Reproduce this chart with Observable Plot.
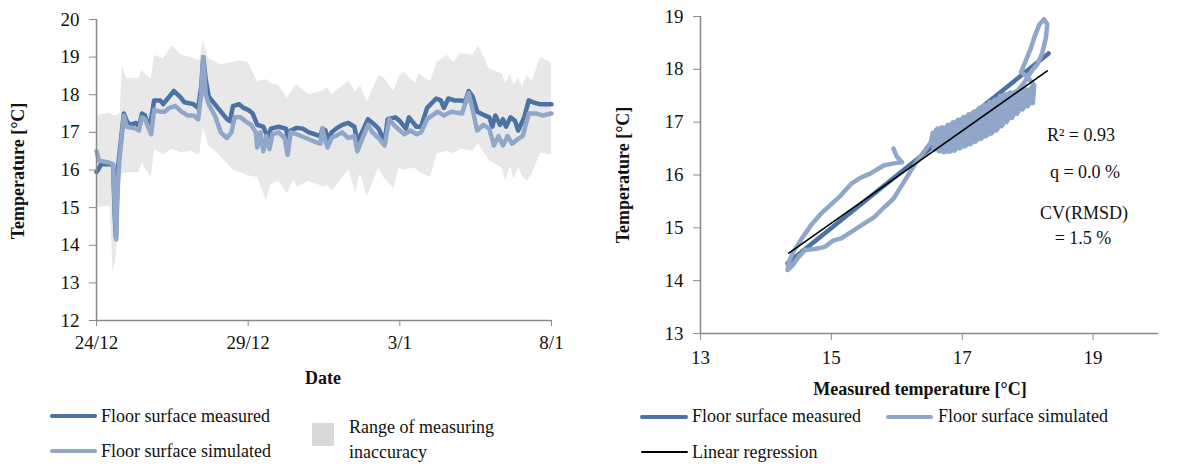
<!DOCTYPE html>
<html>
<head>
<meta charset="utf-8">
<script src="https://cdn.jsdelivr.net/npm/d3@7"></script>
<script src="https://cdn.jsdelivr.net/npm/@observablehq/plot@0.6"></script>
<style>
  html, body { margin: 0; padding: 0; background: #fff; }
  #root { position: relative; width: 1184px; height: 467px; overflow: hidden; font-family: "Liberation Serif", "Times New Roman", serif; color: #111; }
  .abs { position: absolute; white-space: nowrap; }
  .lbl { font-size: 18px; line-height: 1; }
  .title { font-size: 18px; font-weight: bold; line-height: 1; }
  .sw { position: absolute; height: 4px; border-radius: 2px; }
</style>
</head>
<body>
<div id="root"></div>
<script>
// ---------- Left chart data (days after 24/12) ----------
const dayTicks = [0, 5, 10, 15];
const dayTickLabels = ["24/12", "29/12", "3/1", "8/1"];
const tempTicksLeft = [12, 13, 14, 15, 16, 17, 18, 19, 20];

const bandDays = [0,0.45,0.55,0.65,0.78,0.85,1.0,1.4,1.5,1.8,1.92,2.2,2.5,2.8,3.1,3.4,3.52,3.7,4.1,4.5,4.7,5.0,5.3,5.6,5.75,6.0,6.29,6.51,6.62,7.0,7.5,7.6,7.77,8.32,8.54,8.7,8.92,9.31,9.47,9.8,9.97,10.13,10.52,10.63,11.01,11.23,11.56,11.78,12.0,12.39,12.6,12.94,13.38,13.49,13.65,13.76,13.92,14.04,14.2,14.37,14.64,15.0];
const bandLower = [15.0,15.05,13.25,13.7,15.3,15.9,15.93,15.93,16.2,15.8,16.55,16.4,16.55,16.45,16.5,16.4,17.1,16.65,16.35,16.0,15.95,15.85,15.8,15.2,15.6,15.7,15.37,15.75,15.55,15.7,15.55,15.6,15.45,16.0,15.4,15.9,15.3,16.05,15.8,15.5,16.05,16.0,16.05,15.95,15.8,16.43,16.5,16.43,16.55,16.5,16.7,16.25,16.05,15.7,16.1,15.75,16.05,15.85,15.7,15.9,16.45,16.4];
const bandUpper = [17.45,17.5,17.45,17.45,17.5,18.75,18.43,18.43,18.65,18.4,19.05,18.95,19.3,19.05,19.0,18.9,19.45,18.95,18.8,18.85,18.9,18.85,18.35,18.4,18.3,18.25,17.9,18.2,18.25,18.0,18.1,18.2,18.0,18.38,18.05,18.25,17.8,18.5,18.45,18.1,18.45,18.6,18.3,18.55,18.35,18.86,19.05,18.85,19.1,19.05,19.3,18.7,18.55,18.3,18.55,18.25,18.45,18.2,18.5,18.35,19.0,18.85];

const measDays = [0,0.05,0.15,0.5,0.55,0.6,0.64,0.7,0.9,1.0,1.1,1.3,1.4,1.5,1.6,1.75,1.9,2.1,2.2,2.4,2.55,2.75,2.9,3.2,3.35,3.45,3.52,3.6,3.7,3.9,4.1,4.3,4.4,4.5,4.7,4.85,5.0,5.15,5.3,5.5,5.65,5.75,6.0,6.25,6.3,6.4,6.6,6.8,7.0,7.2,7.38,7.45,7.55,7.62,7.75,7.9,8.1,8.3,8.5,8.6,8.75,8.95,9.1,9.3,9.5,9.6,9.85,10.0,10.2,10.3,10.4,10.55,10.7,10.9,11.2,11.35,11.45,11.6,11.8,12.05,12.15,12.27,12.4,12.55,12.8,12.95,13.05,13.15,13.3,13.4,13.5,13.65,13.8,13.9,14.1,14.25,14.4,14.6,14.8,15.0];
const measTemp = [15.95,16.0,16.15,16.15,16.1,14.8,14.2,16.0,17.5,17.3,17.2,17.25,17.15,17.5,17.45,17.1,17.85,17.85,17.75,17.95,18.1,17.95,17.8,17.75,17.65,18.2,19.0,18.4,17.95,17.75,17.55,17.35,17.3,17.7,17.75,17.65,17.6,17.5,17.2,17.15,16.85,17.1,17.15,17.1,16.85,17.05,17.12,17.1,17.0,16.95,16.9,17.1,17.05,16.8,17.0,17.1,17.2,17.25,17.15,16.75,17.0,17.35,17.25,17.1,16.75,17.35,17.4,17.3,17.1,17.4,17.3,17.15,17.15,17.65,17.9,17.85,17.65,17.9,17.85,17.85,17.8,18.1,17.95,17.55,17.45,17.4,17.15,17.45,17.2,17.35,17.15,17.4,17.3,17.05,17.4,17.85,17.8,17.75,17.75,17.75];

const simDays = [0,0.08,0.4,0.55,0.6,0.65,0.7,0.75,0.9,1.0,1.3,1.4,1.5,1.6,1.8,1.9,2.1,2.25,2.4,2.6,2.8,3.0,3.2,3.35,3.45,3.52,3.6,3.7,3.9,4.1,4.3,4.45,4.55,4.75,4.9,5.1,5.25,5.3,5.4,5.5,5.6,5.7,5.8,6.0,6.2,6.3,6.4,6.6,6.9,7.2,7.38,7.45,7.55,7.62,7.75,8.1,8.3,8.5,8.6,8.75,8.95,9.1,9.3,9.5,9.65,9.8,10.0,10.15,10.35,10.55,10.7,10.9,11.25,11.45,11.7,12.05,12.27,12.4,12.55,12.75,12.95,13.1,13.25,13.4,13.55,13.7,13.85,14.05,14.25,14.5,14.7,15.0];
const simTemp = [16.5,16.25,16.2,16.15,15.0,14.15,15.6,16.2,17.45,17.15,17.1,17.05,17.4,17.35,16.95,17.6,17.55,17.55,17.65,17.7,17.55,17.45,17.45,17.35,18.0,19.0,18.0,17.75,17.45,17.0,16.85,17.0,17.4,17.4,17.3,17.2,17.0,16.6,17.0,16.5,16.9,16.55,16.95,17.0,16.85,16.4,17.0,16.95,16.85,16.75,16.7,17.1,16.75,16.6,16.85,17.0,16.85,16.9,16.5,16.8,17.2,17.0,16.85,16.65,17.35,17.2,17.05,16.95,17.05,16.95,17.0,17.35,17.55,17.45,17.55,17.5,18.05,17.6,17.05,17.2,17.1,16.65,16.9,16.65,16.9,16.7,16.8,16.9,17.5,17.5,17.45,17.5];

// ---------- Right chart data ----------
const xTicksRight = [13, 15, 17, 19];
const yTicksRight = [13, 14, 15, 16, 17, 18, 19];
const traceMeasured = [15.95,16.0,16.08,15.95,15.8,15.6,15.45,15.3,15.15,15.0,14.85,14.7,14.55,14.42,14.35,14.33,14.4,14.5,14.6,14.75,14.9,15.03,15.15,15.34,15.5,15.65,15.8,15.95,16.1,16.2,16.31,16.45,16.52,
  16.55,16.58,16.62,16.66,16.70,16.74,16.78,16.82,16.86,16.90,16.94,16.98,17.02,17.06,17.10,17.14,17.18,17.22,17.26,17.30,17.34,17.38,17.42,17.46,17.50,17.54,17.58,17.62,17.66,17.70,17.74,17.78,17.82,17.86,17.90,17.94,17.98,18.02,18.06,18.1,
  18.08,18.04,18.0,17.96,17.92,17.88,17.84,17.8,17.76,17.72,17.68,17.64,17.6,17.56,17.52,17.48,17.44,17.4,17.36,17.32,17.28,17.24,17.2,17.16,17.12,17.08,17.04,17.0,16.96,16.92,16.88,16.84,16.8,16.76,16.72,16.68,16.64,16.6,16.56,
  17.0,17.5,18.0,18.1,
  18.0,17.9,17.95,18.05,18.1,18.18,18.25,18.3,18.28,18.22,18.15,18.05,17.95,17.85,17.7];
const traceSimulated = [16.5,16.35,16.24,16.22,16.18,16.03,15.95,15.83,15.62,15.45,15.28,15.07,14.8,14.55,14.35,14.2,14.28,14.45,14.58,14.6,14.64,14.76,14.8,14.95,15.08,15.2,15.38,15.55,15.85,16.05,16.27,16.5,16.62,
  16.8,16.48,16.88,16.45,16.9,16.44,16.95,16.45,17.0,16.48,17.05,16.52,17.1,16.56,17.15,16.6,17.2,16.65,17.27,16.7,17.32,16.75,17.38,16.8,17.43,16.87,17.5,16.95,17.53,17.05,17.56,17.12,17.58,17.2,17.6,17.27,17.62,17.33,17.65,17.7,
  17.36,17.63,17.3,17.61,17.24,17.59,17.16,17.57,17.08,17.55,17.0,17.52,16.92,17.46,16.84,17.4,16.78,17.35,16.73,17.3,16.68,17.24,16.63,17.18,16.58,17.12,16.54,17.07,16.5,17.02,16.46,16.97,16.44,16.92,16.43,16.9,16.45,16.85,16.5,
  16.8,17.2,17.55,17.7,
  17.85,17.95,18.1,18.4,18.6,18.85,18.95,18.85,18.6,18.3,18.1,17.95,17.75,17.6,17.45];
const identityMeasured = [14.33, 18.32];
const identitySimulated = [14.33, 18.3];
const regressionX = [14.35, 18.3];
const regressionY = [14.52, 17.97];

// ---------- Styling ----------
const colMeas = "#4b72a5";
const colSim = "#90a7c9";
const colBand = "#e8e8e8";
const axisGrey = "#898989";
const font = "Liberation Serif";

const root = document.getElementById("root");

function place(el, left, top) {
  el.style.position = "absolute";
  el.style.left = left + "px";
  el.style.top = top + "px";
  root.appendChild(el);
}

// ---------- Left plot ----------
const band = bandDays.map((d, i) => ({day: d, lo: bandLower[i], hi: bandUpper[i]}));
const meas = measDays.map((d, i) => ({day: d, t: measTemp[i]}));
const sim = simDays.map((d, i) => ({day: d, t: simTemp[i]}));

const left = Plot.plot({
  width: 580, height: 360,
  marginLeft: 96, marginRight: 29, marginTop: 19, marginBottom: 40,
  style: {fontFamily: font, fontSize: "19px", color: "#111", background: "transparent"},
  x: {domain: [0, 15]},
  y: {domain: [12, 20]},
  marks: [
    Plot.areaY(band, {x: "day", y1: "lo", y2: "hi", fill: colBand, curve: "linear"}),
    Plot.line(meas, {x: "day", y: "t", stroke: colMeas, strokeWidth: 4.5, strokeLinejoin: "round", strokeLinecap: "round"}),
    Plot.line(sim, {x: "day", y: "t", stroke: colSim, strokeWidth: 4.5, strokeLinejoin: "round", strokeLinecap: "round"}),
    Plot.ruleX([0], {stroke: axisGrey, strokeWidth: 1.5}),
    Plot.ruleY([12], {stroke: axisGrey, strokeWidth: 1.5}),
    Plot.axisX({ticks: dayTicks, tickFormat: (d) => dayTickLabels[dayTicks.indexOf(d)], tickSize: 6, tickPadding: 9, stroke: axisGrey, fill: "#111", label: null}),
    Plot.axisY({ticks: tempTicksLeft, tickFormat: (d) => String(d), tickSize: 7, tickPadding: 10, stroke: axisGrey, fill: "#111", label: null})
  ]
});
place(left, 0, 0);

// ---------- Right plot ----------
const trace = traceMeasured.map((m, i) => ({m, s: traceSimulated[i]}));
const ident = identityMeasured.map((m, i) => ({m, s: identitySimulated[i]}));
const reg = regressionX.map((m, i) => ({m, s: regressionY[i]}));

const right = Plot.plot({
  width: 584, height: 373,
  marginLeft: 100, marginRight: 26, marginTop: 16, marginBottom: 40,
  style: {fontFamily: font, fontSize: "19px", color: "#111", background: "transparent"},
  x: {domain: [13, 20]},
  y: {domain: [13, 19]},
  marks: [
    Plot.line(ident, {x: "m", y: "s", stroke: colMeas, strokeWidth: 4.5, strokeLinecap: "round"}),
    Plot.line(trace, {x: "m", y: "s", stroke: colSim, strokeWidth: 4.5, strokeLinejoin: "round", strokeLinecap: "round", curve: "linear"}),
    Plot.line(reg, {x: "m", y: "s", stroke: "#000", strokeWidth: 1.6}),
    Plot.ruleX([13], {stroke: axisGrey, strokeWidth: 1.5}),
    Plot.ruleY([13], {stroke: axisGrey, strokeWidth: 1.5}),
    Plot.axisX({ticks: xTicksRight, tickFormat: (d) => String(d), tickSize: 7, tickPadding: 10, stroke: axisGrey, fill: "#111", label: null}),
    Plot.axisY({ticks: yTicksRight, tickFormat: (d) => String(d), tickSize: 7, tickPadding: 10, stroke: axisGrey, fill: "#111", label: null})
  ]
});
place(right, 600, 0);

// ---------- Text: titles, annotations ----------
function text(str, cls, x, y, opts = {}) {
  const d = document.createElement("div");
  d.className = "abs " + cls;
  d.textContent = str;
  d.style.left = x + "px";
  d.style.top = y + "px";
  let tr = "translate(-50%, -50%)";
  if (opts.anchor === "start") tr = "translate(0, -50%)";
  if (opts.rotate) tr += " rotate(-90deg)";
  d.style.transform = tr;
  root.appendChild(d);
  return d;
}
text("Temperature [°C]", "title", 18, 171, {rotate: true});
text("Date", "title", 323, 378);
text("Temperature [°C]", "title", 623, 175, {rotate: true});
text("Measured temperature [°C]", "title", 920, 389);

text("R² = 0.93", "lbl", 1081, 135);
text("q = 0.0 %", "lbl", 1085, 172);
text("CV(RMSD)", "lbl", 1084, 213);
text("= 1.5 %", "lbl", 1083, 238);

// ---------- Legends ----------
function swatch(x1, x2, y, color, h = 4) {
  const s = document.createElement("div");
  s.className = "sw";
  s.style.left = x1 + "px";
  s.style.width = (x2 - x1) + "px";
  s.style.top = (y - h / 2) + "px";
  s.style.height = h + "px";
  s.style.background = color;
  root.appendChild(s);
}
swatch(50, 97, 416, colMeas);
text("Floor surface measured", "lbl", 101, 416, {anchor: "start"});
swatch(50, 97, 451, colSim);
text("Floor surface simulated", "lbl", 101, 451, {anchor: "start"});
const sq = document.createElement("div");
sq.style.cssText = "position:absolute;left:312px;top:423px;width:22px;height:23px;background:#d9d9d9;";
root.appendChild(sq);
text("Range of measuring", "lbl", 349, 427, {anchor: "start"});
text("inaccuracy", "lbl", 349, 452, {anchor: "start"});

swatch(640, 688, 417, colMeas);
text("Floor surface measured", "lbl", 692, 416, {anchor: "start"});
swatch(886, 933, 417, colSim);
text("Floor surface simulated", "lbl", 938, 416, {anchor: "start"});
swatch(641, 688, 452, "#000", 2);
text("Linear regression", "lbl", 692, 452, {anchor: "start"});
</script>
</body>
</html>
